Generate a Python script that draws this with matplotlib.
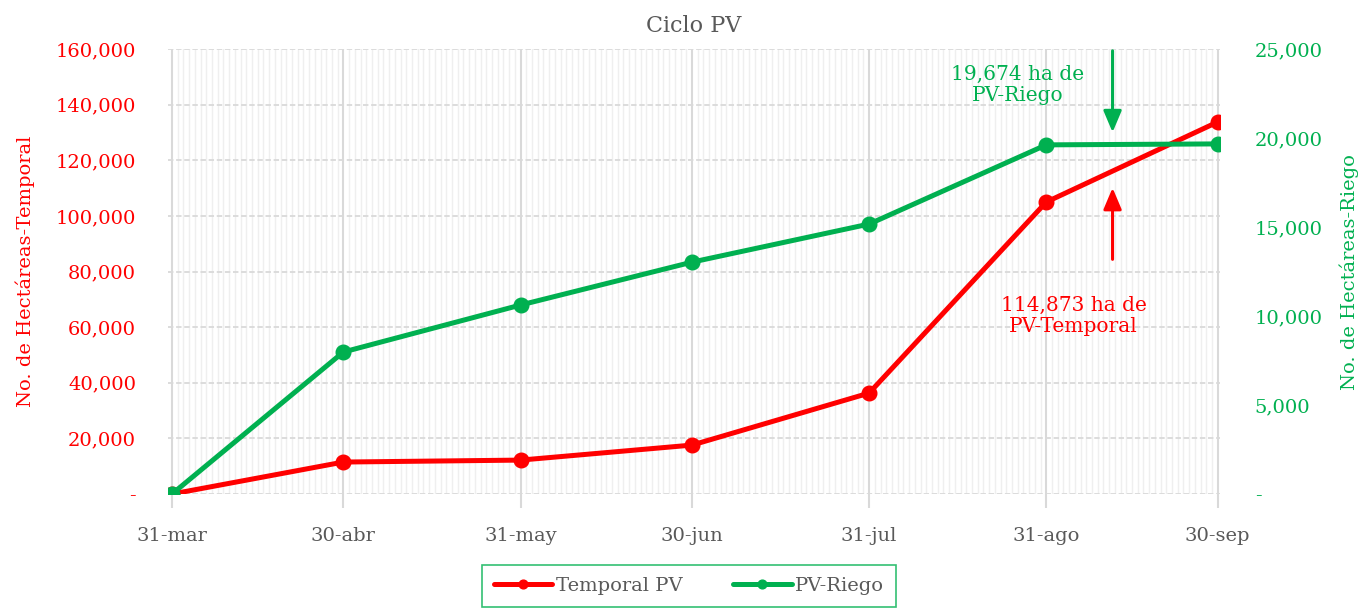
import numpy as np
import pandas as pd
import matplotlib
matplotlib.use("Agg")
import matplotlib.pyplot as plt
import matplotlib.dates as mdates
from matplotlib.ticker import FuncFormatter, MultipleLocator

# values
fechas = ["2023-03-31", "2023-04-30", "2023-05-31", "2023-06-30",
          "2023-07-31", "2023-08-31", "2023-09-30"]
etiquetas_x = ["31-mar", "30-abr", "31-may", "30-jun", "31-jul", "31-ago", "30-sep"]
temporal_pv = [0, 11500, 12200, 17600, 36300, 105000, 133800]
pv_riego = [0, 7980, 10620, 13030, 15170, 19620, 19674]

ROJO = "#ff0000"
VERDE = "#00b050"
GRIS = "#595959"

plt.rcParams["font.family"] = ["DejaVu Serif"]

x = mdates.date2num(pd.to_datetime(fechas))

fig = plt.figure(figsize=(13.7, 6.14), dpi=100)
ax = fig.add_axes([0.1226, 0.1954, 0.7679, 0.7246])
ax2 = ax.twinx()

ax.plot(x, temporal_pv, color=ROJO, lw=3.6, marker="o", ms=10.5, label="Temporal PV",
        solid_capstyle="round", zorder=3)
ax2.plot(x, pv_riego, color=VERDE, lw=3.6, marker="o", ms=10.5, label="PV-Riego",
         solid_capstyle="round", zorder=3)

ax.set_xlim(x[0] - 0.7, x[-1] + 0.4)
ax.set_ylim(0, 160000)
ax2.set_ylim(0, 25000)

ax.set_xticks(x)
ax.set_xticklabels(etiquetas_x)
ax.xaxis.set_minor_locator(mdates.DayLocator())
ax.yaxis.set_major_locator(MultipleLocator(20000))
ax2.yaxis.set_major_locator(MultipleLocator(5000))

fmt = FuncFormatter(lambda v, p: "-" if v == 0 else f"{v:,.0f}")
ax.yaxis.set_major_formatter(fmt)
ax2.yaxis.set_major_formatter(fmt)

ax.grid(True, which="minor", axis="x", color="#efefef", lw=1.0)
ax.grid(True, which="major", axis="x", color="#d9d9d9", lw=1.5)
ax.grid(True, which="major", axis="y", color="#d9d9d9", lw=1.3, ls=(0, (3, 1.5)))
ax.set_axisbelow(True)

for a in (ax, ax2):
    for s in a.spines.values():
        s.set_visible(False)

ax.tick_params(axis="x", which="major", length=10, color="#d9d9d9", width=1.5,
               labelsize=14, labelcolor=GRIS, pad=14)
ax.tick_params(axis="x", which="minor", length=0)
ax.tick_params(axis="y", length=0, labelsize=14, labelcolor=ROJO, pad=23)
ax2.tick_params(axis="y", length=0, labelsize=14, labelcolor=VERDE, pad=25)

ax.set_ylabel("No. de Hectáreas-Temporal", color=ROJO, fontsize=14, labelpad=15)
ax2.set_ylabel("No. de Hectáreas-Riego", color=VERDE, fontsize=14, labelpad=12)
ax.set_title("Ciclo PV", color=GRIS, fontsize=16, pad=12)

# annotations with arrows
xa = x[5] + 11.6
flecha = "-|>,head_width=0.55,head_length=1.3"
ax2.annotate("", xy=(xa, 20170), xytext=(xa, 25060),
             arrowprops=dict(arrowstyle=flecha, color=VERDE, lw=2.2),
             annotation_clip=False)
ax2.text(x[5] - 5, 22980, "19,674 ha de\nPV-Riego", color=VERDE, fontsize=14.5,
         ha="center", va="center", linespacing=1.15)
ax.annotate("", xy=(xa, 111100), xytext=(xa, 83400),
            arrowprops=dict(arrowstyle=flecha, color=ROJO, lw=2.2))
ax.text(x[5] + 4.8, 64000, "114,873 ha de\nPV-Temporal", color=ROJO, fontsize=14.5,
        ha="center", va="center", linespacing=1.15)

h1, l1 = ax.get_legend_handles_labels()
h2, l2 = ax2.get_legend_handles_labels()
leg = fig.legend(h1 + h2, l1 + l2, loc="upper center", bbox_to_anchor=(0.503, 0.079),
                 ncol=2, fontsize=14, frameon=True, fancybox=False,
                 handlelength=3.0, handletextpad=0.2, columnspacing=2.6,
                 borderpad=0.6, borderaxespad=0, markerscale=0.6)
leg.get_frame().set_edgecolor(VERDE)
leg.get_frame().set_linewidth(1.2)
for t in leg.get_texts():
    t.set_color(GRIS)

fig.savefig("out.png", dpi=100)
